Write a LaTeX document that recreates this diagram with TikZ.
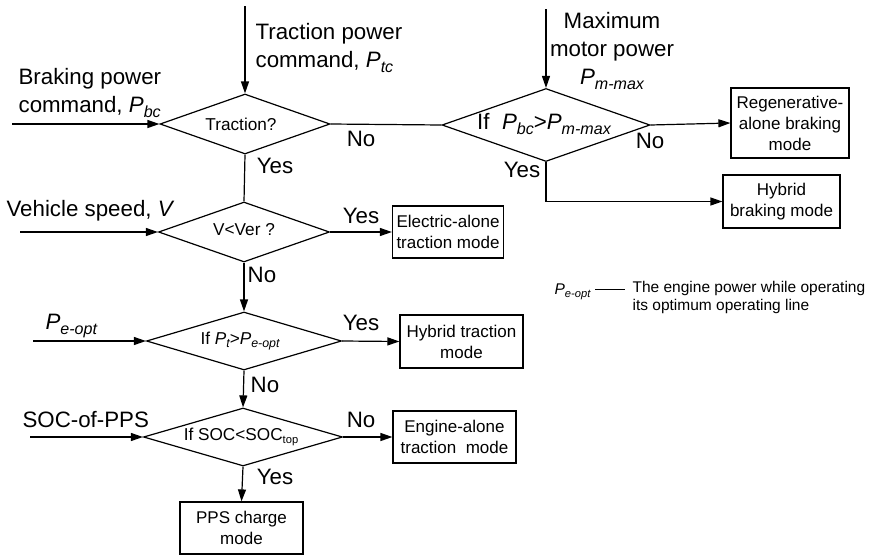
\documentclass[tikz,border=0pt]{standalone}
\usepackage{fontspec}
\setmainfont{Liberation Sans}
\usepackage{graphicx}
\usetikzlibrary{shapes.geometric,arrows.meta}
\newcommand\isub[1]{\raisebox{-0.4ex}{\scalebox{0.72}{\itshape #1}}}
\newcommand\usub[1]{\raisebox{-0.4ex}{\scalebox{0.65}{#1}}}
\begin{document}
\begin{tikzpicture}[x=1pt,y=-1pt,
  line width=1.2pt,
  big/.style={font=\fontsize{22.3}{28}\selectfont, inner sep=0pt},
  small/.style={font=\fontsize{17.2}{21}\selectfont, inner sep=0pt},
  legtext/.style={font=\fontsize{15.5}{18}\selectfont, inner sep=0pt},
  dia/.style={diamond, draw, inner sep=0pt, aspect=3},
  modebox/.style={draw, rectangle, inner sep=0pt, align=center, font=\fontsize{17}{21}\selectfont},
  arr/.style={-{Triangle[length=12pt,width=8pt]}},
  plain/.style={-}
]
\useasboundingbox (0,0) rectangle (881,557);

% decision diamonds
\node[dia, minimum width=170pt, minimum height=60pt] (d1) at (245,124) {};
\node[small] (d1t) at ([xshift=-4pt]d1) {Traction?};
\node[dia, minimum width=171pt, minimum height=60pt] (d2) at (244,232) {};
\node[small] (d2t) at ([yshift=2pt]d2) {V<Ver ?};
\node[dia, minimum width=195pt, minimum height=58pt] (d3) at (244,341) {};
\node[small] (d3t) at ([xshift=-4pt]d3) {If \textit{P}\isub{t}>\textit{P}\isub{e-opt}};
\node[dia, minimum width=199pt, minimum height=58pt] (d4) at (243,437) {};
\node[small] (d4t) at ([xshift=-2pt]d4) {If SOC<SOC\usub{top}};
\node[dia, minimum width=208pt, minimum height=73pt] (d5) at (546,125) {};
\node[big] (d5t) at ([xshift=-2pt,yshift=1pt]d5) {If\ \ \textit{P}\isub{bc}>\textit{P}\isub{m-max}};

% mode boxes
\node[modebox, minimum width=118pt, minimum height=70pt] (regen) at (790,123) {Regenerative-\\alone braking\\mode};
\node[modebox, minimum width=117pt, minimum height=53pt] (hybb) at (781.5,201.5) {Hybrid\\braking mode};
\node[modebox, minimum width=111pt, minimum height=52pt] (elec) at (448,232) {Electric-alone\\traction mode};
\node[modebox, minimum width=123pt, minimum height=53pt] (hybt) at (461.5,341.5) {Hybrid traction\\mode};
\node[modebox, minimum width=123pt, minimum height=52pt] (eng) at (454.5,437) {Engine-alone\\traction~ mode};
\node[modebox, minimum width=123pt, minimum height=52pt] (pps) at (241.5,528) {PPS charge\\mode};

% input labels
\node[big, anchor=north west, align=left] (ltc) at (255,23) {Traction power\\command, \textit{P}\isub{tc}};
\node[big, anchor=north west, align=left] (lbc) at (18,68) {Braking power\\command, \textit{P}\isub{bc}};
\node[big, anchor=north, align=center] (lmm) at (612,12) {Maximum\\motor power\\\textit{P}\isub{m-max}};
\node[big, anchor=west] (lv) at (6,211) {Vehicle speed, \textit{V}};
\node[big, anchor=west] (lpe) at (45,326) {\textit{P}\isub{e-opt}};
\node[big, anchor=west] (lsoc) at (22,420) {SOC-of-PPS};

% input coordinates
\coordinate (t1) at (245,6);
\coordinate (t5) at (546,9);
\coordinate (inbc) at (12,124);
\coordinate (inv) at (20,232);
\coordinate (inpe) at (33,341);
\coordinate (insoc) at (30,437);

% input arrows
\draw[arr] (t1) -- (d1.north);
\draw[arr] (t5) -- (d5.north);
\draw[arr] (inbc) -- (d1.west);
\draw[arr] (inv) -- (d2.west);
\draw[arr] (inpe) -- (d3.west);
\draw[arr] (insoc) -- (d4.west);

% flow connectors
\draw[plain] (d1.east) -- (d5.west);
\draw[plain] (d1.south) -- (d2.north);
\draw[arr] (d5.east) -- (regen.west);
\draw[arr] (d5.south) |- (hybb.west);
\draw[arr] (d2.east) -- (elec.west);
\draw[arr] (d2.south) -- (d3.north);
\draw[arr] (d3.east) -- (hybt.west);
\draw[arr] (d3.south) -- (d4.north);
\draw[arr] (d4.east) -- (eng.west);
\draw[arr] (d4.south) -- (pps.north);

% branch labels
\node[big] (y1) at (275,166) {Yes};
\node[big] (n1) at (361,139) {No};
\node[big] (n5) at (650,141) {No};
\node[big] (y5) at (522,170) {Yes};
\node[big] (y2) at (361,216) {Yes};
\node[big] (n2) at (262,275) {No};
\node[big] (y3) at (361,323) {Yes};
\node[big] (n3) at (265,385) {No};
\node[big] (n4) at (361,420) {No};
\node[big] (y4) at (275,477) {Yes};

% legend
\node[legtext, anchor=east] (legp) at (591,292) {\textit{P}\isub{e-opt}};
\node[legtext, anchor=north west, align=left] (legt) at (632,281) {The engine power while operating\\its optimum operating line};
\coordinate (legd) at (625,289);
\draw[line width=0.8pt] ([xshift=4pt]legp.east |- legd) -- (legd);
\end{tikzpicture}
\end{document}
